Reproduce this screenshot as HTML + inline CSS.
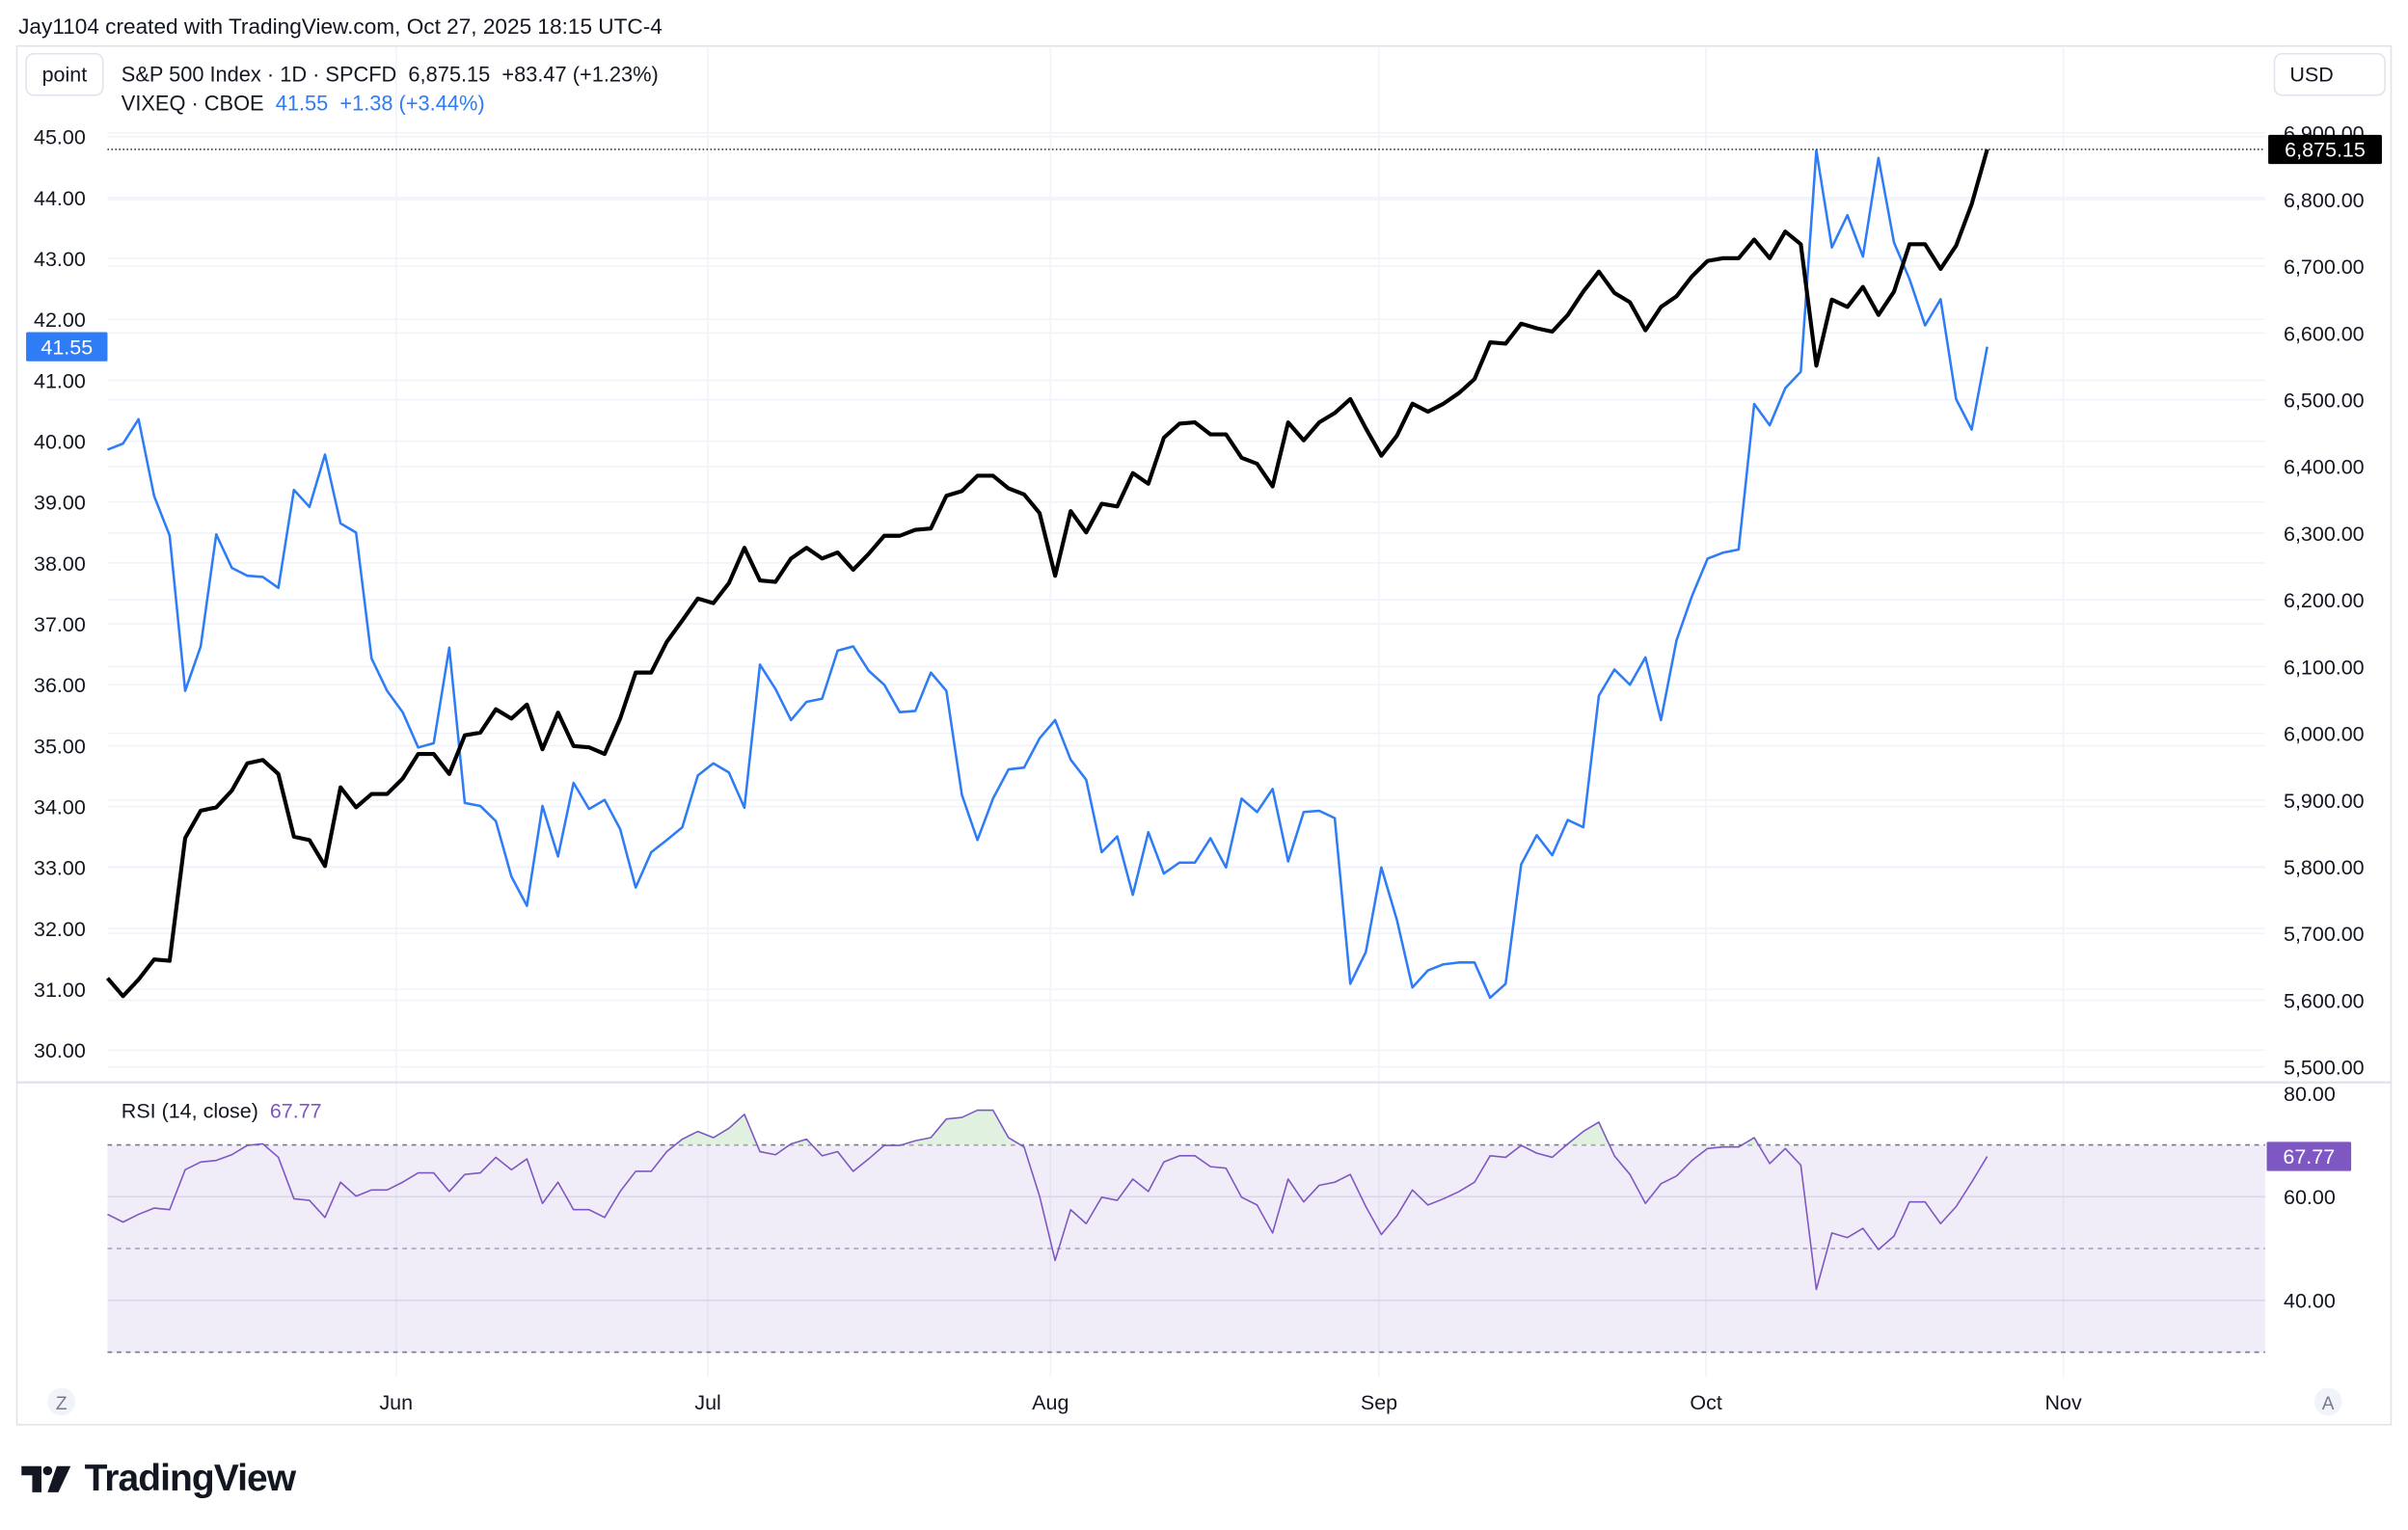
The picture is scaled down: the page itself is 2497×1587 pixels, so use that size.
<!DOCTYPE html>
<html><head><meta charset="utf-8"><style>
html,body{margin:0;padding:0;background:#fff;}
svg{display:block;font-family:"Liberation Sans",sans-serif;}
</style></head><body>
<svg id="chart" width="2497" height="1587" viewBox="0 0 1568 996.6" preserveAspectRatio="none" xmlns="http://www.w3.org/2000/svg">
<rect x="0" y="0" width="1568" height="997" fill="#ffffff"/>
<text x="12" y="22" font-size="14.2" fill="#131722">Jay1104 created with TradingView.com, Oct 27, 2025 18:15 UTC-4</text>
<rect x="11" y="30" width="1546" height="898" fill="none" stroke="#e0e3eb" stroke-width="1"/>
<g id="grid"></g>
<rect id="rsiband" x="70" y="746" width="1405" height="135" fill="#7e57c2" fill-opacity="0.11"/>
<line x1="11" y1="705" x2="1557" y2="705" stroke="#e0e3eb" stroke-width="1.5"/>
<g id="marks"></g>
<line x1="70" y1="97.3" x2="1475" y2="97.3" stroke="#131722" stroke-width="0.8" stroke-dasharray="1,1.5"/>
<g id="axes"></g>
<rect x="17" y="35" width="50" height="27" rx="5" fill="#fff" stroke="#e0e3eb"/>
<text x="42" y="53" font-size="13.5" fill="#131722" text-anchor="middle">point</text>
<rect x="1481" y="35" width="72" height="27" rx="5" fill="#fff" stroke="#e0e3eb"/>
<text x="1491" y="53" font-size="13.5" fill="#131722">USD</text>
<text x="79" y="53" font-size="13.7" fill="#131722" xml:space="preserve">S&amp;P 500 Index · 1D · SPCFD  6,875.15  +83.47 (+1.23%)</text>
<text x="79" y="72" font-size="13.7" fill="#131722" xml:space="preserve">VIXEQ · CBOE  <tspan fill="#2e7cf6">41.55  +1.38 (+3.44%)</tspan></text>
<text x="79" y="728" font-size="13.5" fill="#131722" xml:space="preserve">RSI (14, close)  <tspan fill="#7e57c2">67.77</tspan></text>
<circle cx="40" cy="913" r="9" fill="#f0f3fa"/>
<text x="40" y="918" font-size="12" fill="#787b86" text-anchor="middle">Z</text>
<circle cx="1516" cy="913" r="9" fill="#f0f3fa"/>
<text x="1516" y="918" font-size="12" fill="#787b86" text-anchor="middle">A</text>
<g>
<path d="M14 955 h13 v17 h-6 v-11 h-7 z" fill="#131722"/>
<circle cx="31" cy="958" r="3" fill="#131722"/>
<path d="M37 955 h9 l-8 17 h-7 z" fill="#131722"/>
<text x="55" y="971" font-size="24.5" font-weight="bold" fill="#131722" letter-spacing="-0.6">TradingView</text>
</g>
</svg>
<script>
const spxValues=[5633,5606,5631,5661,5659,5843,5884,5889,5914,5955,5960,5939,5845,5840,5801,5919,5889,5909,5909,5932,5969,5969,5939,5997,6001,6036,6022,6043,5976,6031,5981,5979,5969,6022,6091,6091,6137,6169,6202,6195,6225,6278,6229,6227,6262,6278,6262,6271,6245,6269,6296,6296,6305,6307,6356,6363,6386,6386,6367,6358,6330,6236,6333,6301,6344,6340,6390,6374,6443,6464,6466,6448,6448,6413,6404,6370,6466,6439,6466,6480,6501,6457,6416,6446,6494,6482,6494,6510,6531,6586,6584,6614,6607,6602,6627,6662,6692,6660,6646,6604,6639,6655,6685,6708,6712,6712,6740,6712,6752,6733,6551,6650,6639,6669,6627,6662,6733,6733,6696,6731,6793,6875.15];
const vixValues=[39.86,39.96,40.36,39.10,38.45,35.90,36.63,38.47,37.92,37.79,37.77,37.59,39.20,38.92,39.78,38.65,38.50,36.43,35.90,35.55,34.97,35.04,36.61,34.06,34.01,33.76,32.85,32.37,34.01,33.18,34.39,33.96,34.11,33.63,32.67,33.25,33.45,33.66,34.51,34.71,34.56,33.98,36.33,35.93,35.42,35.72,35.77,36.56,36.63,36.23,36.00,35.55,35.57,36.20,35.90,34.19,33.45,34.13,34.61,34.64,35.12,35.42,34.77,34.44,33.25,33.51,32.55,33.58,32.90,33.08,33.08,33.48,33.00,34.13,33.91,34.29,33.10,33.91,33.93,33.81,31.09,31.61,33.00,32.14,31.03,31.31,31.41,31.44,31.44,30.86,31.09,33.05,33.53,33.20,33.78,33.66,35.82,36.25,36.00,36.45,35.42,36.73,37.46,38.07,38.17,38.22,40.61,40.26,40.87,41.14,44.77,43.18,43.71,43.03,44.65,43.26,42.66,41.90,42.33,40.69,40.19,41.55];
const rsiValues=[56.6,55.1,56.6,57.8,57.5,65.2,66.7,67.0,68.1,69.9,70.2,67.6,59.6,59.3,56.0,62.8,60.1,61.3,61.3,62.8,64.6,64.6,61.0,64.3,64.6,67.6,65.2,67.3,58.7,62.8,57.5,57.5,56.0,61.0,64.9,64.9,68.7,71.1,72.6,71.4,73.2,75.9,68.7,68.1,70.2,71.1,67.9,68.7,64.9,67.3,69.9,69.9,70.8,71.4,75.0,75.3,76.7,76.7,71.4,69.6,60.1,47.7,57.5,54.8,59.9,59.3,63.4,61.0,66.7,67.9,67.9,65.8,65.5,59.9,58.4,53.0,63.4,59.0,62.2,62.8,64.3,58.1,52.7,56.3,61.3,58.4,59.6,61.0,62.8,67.9,67.6,69.9,68.4,67.6,70.2,72.6,74.4,67.9,64.3,58.7,62.5,64.0,67.0,69.3,69.6,69.6,71.4,66.4,69.3,66.1,42.1,53.0,52.1,53.9,49.8,52.4,59.0,59.0,54.8,58.1,62.8,67.77];
const leftTicks=[45,44,43,42,41,40,39,38,37,36,35,34,33,32,31,30];
const rightTicks=[6900,6800,6700,6600,6500,6400,6300,6200,6100,6000,5900,5800,5700,5600,5500];
const rsiTicks=[80,60,40];
const monthLabels=["Jun","Jul","Aug","Sep","Oct","Nov"];
const monthIndex=[18.58,38.65,60.7,81.85,102.9,125.9];

const NS="http://www.w3.org/2000/svg";
const X0=70,X1=1294,PL=70,PR=1475;
const n=spxValues.length;
function xAt(i){return X0+(X1-X0)*i/(n-1);}
function yLeft(v){return 89+(45-v)*39.67;}
function yRight(v){return 86.5+(6900-v)*0.4346;}
function yRsi(v){return 712+(80-v)*67.5/20;}
function mk(tag,attrs,parent){const e=document.createElementNS(NS,tag);for(const k in attrs)e.setAttribute(k,attrs[k]);parent.appendChild(e);return e;}
const grid=document.getElementById('grid'),marks=document.getElementById('marks'),axes=document.getElementById('axes');

monthIndex.forEach((mi,k)=>{
  const x=xAt(mi);
  const l=mk('line',{x1:x,y1:31,x2:x,y2:897,stroke:'#f0f3fa','stroke-width':1},grid);
  
  
  const t=mk('text',{x:x,y:918,'font-size':13.5,fill:'#131722','text-anchor':'middle'},axes);
  t.textContent=monthLabels[k];
  
  
});
leftTicks.forEach(v=>{
  const y=yLeft(v);
  const l=mk('line',{x1:PL,y1:y,x2:PR,y2:y,stroke:'#f0f3fa','stroke-width':1},grid);
  
  
  const t=mk('text',{x:22,y:y+5,'font-size':13.5,fill:'#131722'},axes);
  t.textContent=v.toFixed(2);
  
  
});
rightTicks.forEach(v=>{
  const y=yRight(v);
  const l=mk('line',{x1:PL,y1:y,x2:PR,y2:y,stroke:'#f0f3fa','stroke-width':1},grid);
  
  
  const t=mk('text',{x:1487,y:y+5,'font-size':13.5,fill:'#131722'},axes);
  t.textContent=v.toLocaleString('en-US',{minimumFractionDigits:2});
  
  
});
rsiTicks.forEach(v=>{
  const y=yRsi(v);
  if(v!==80){const l=mk('line',{x1:PL,y1:y,x2:PR,y2:y,stroke:'#e8e4f2','stroke-width':1},grid);
  
  }
  const t=mk('text',{x:1487,y:y+5,'font-size':13.5,fill:'#131722'},axes);
  t.textContent=v.toFixed(2);
  
  
});
[70,50,30].forEach(v=>{
  const y=yRsi(v);
  const l=mk('line',{x1:PL,y1:y,x2:PR,y2:y,stroke:v===50?'#b2abc4':'#787b86','stroke-width':1,'stroke-dasharray':'3,3'},grid);
  
  
});

const clip=mk('clipPath',{id:'obclip'},marks);
mk('rect',{x:PL,y:690,width:PR-PL,height:yRsi(70)-690},clip);
let poly=`M${xAt(0)},${yRsi(70)} `+rsiValues.map((v,i)=>`L${xAt(i)},${yRsi(v)}`).join(' ')+` L${xAt(n-1)},${yRsi(70)} Z`;
const ob=mk('path',{d:poly,fill:'#d8eed8','fill-opacity':0.8,'clip-path':'url(#obclip)'},marks);



function line(vals,yf,color,w,name){
  const d=vals.map((v,i)=>(i?'L':'M')+xAt(i).toFixed(2)+','+yf(v).toFixed(2)).join(' ');
  const p=mk('path',{d:d,fill:'none',stroke:color,'stroke-width':w,'stroke-linejoin':'round'},marks);
  
  
}
line(rsiValues,yRsi,'#7e57c2',1,'rsi-line');
line(vixValues,yLeft,'#2e7cf6',1.6,'vixeq-line');
line(spxValues,yRight,'#000000',2.6,'spx-line');

function tag(x,y,w,bg,txt,name){
  const r=mk('rect',{x:x,y:y-9.5,width:w,height:19,fill:bg,rx:1},axes);
  
  
  const t=mk('text',{x:x+w/2,y:y+4.8,'font-size':13.5,fill:'#ffffff','text-anchor':'middle'},axes);
  t.textContent=txt;
  
  
}
const lastSpx=spxValues[n-1],lastVix=vixValues[n-1],lastRsi=rsiValues[n-1];
tag(1477,yRight(lastSpx),74,'#000000',lastSpx.toLocaleString('en-US',{minimumFractionDigits:2}),'spx-price-tag');
tag(17,yLeft(lastVix),53,'#2e7cf6',lastVix.toFixed(2),'vixeq-price-tag');
tag(1476,yRsi(lastRsi),55,'#7e57c2',lastRsi.toFixed(2),'rsi-value-tag');
</script>
</body></html>
